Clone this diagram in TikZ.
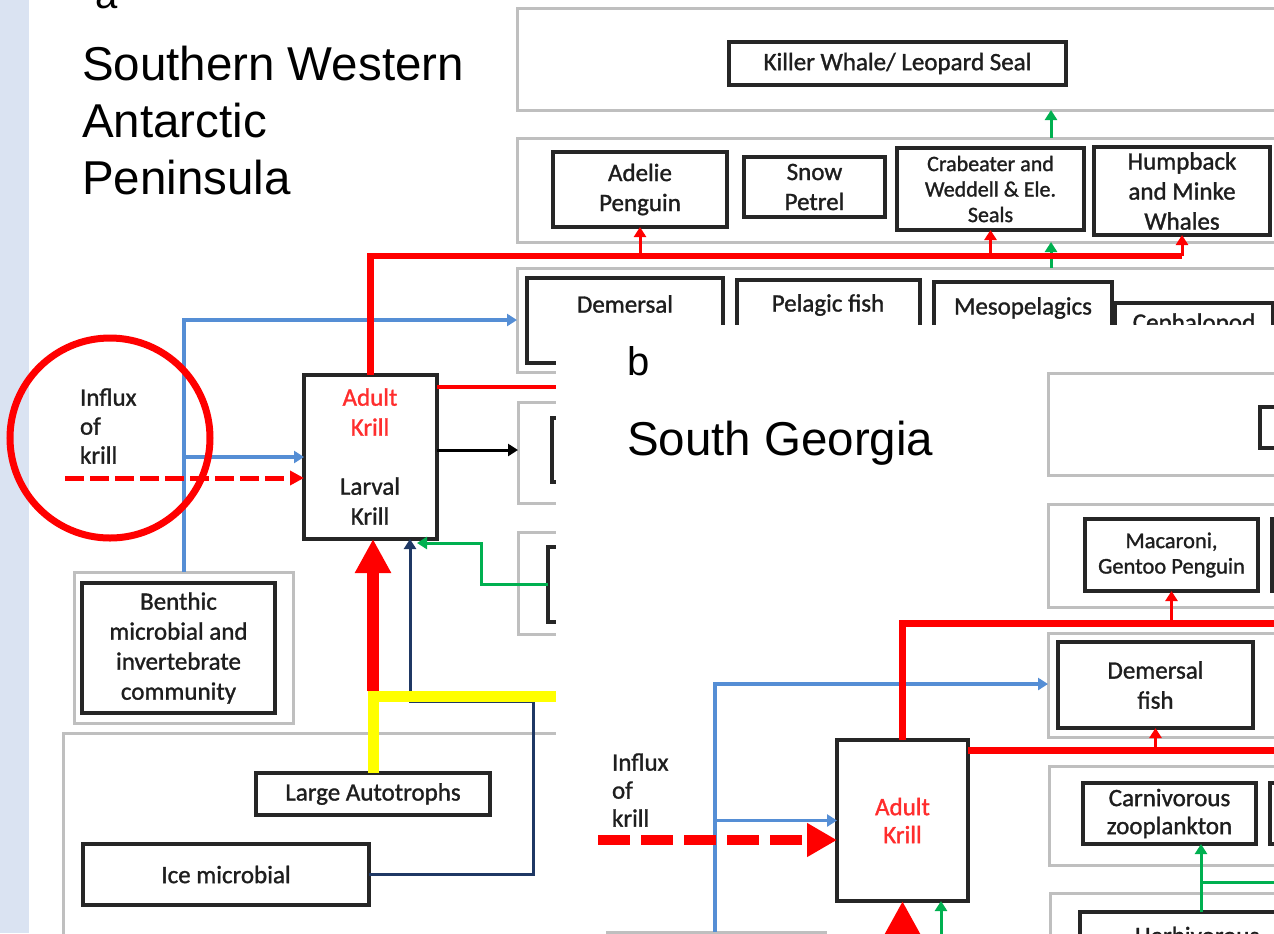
\documentclass[tikz,border=0pt]{standalone}
\usepackage{fontspec}
\setmainfont{Carlito}[FakeBold=1.2]
\newfontfamily\arialfont{Liberation Sans}
\usetikzlibrary{arrows.meta,fit}

\definecolor{stripc}{RGB}{218,227,242}
\definecolor{laygray}{RGB}{191,191,191}
\definecolor{boxc}{RGB}{38,38,38}
\definecolor{txtc}{RGB}{30,30,30}
\definecolor{bluec}{RGB}{85,142,213}
\definecolor{greenc}{RGB}{0,176,80}
\definecolor{navyc}{RGB}{31,56,100}
\definecolor{redc}{RGB}{255,0,0}
\definecolor{yelc}{RGB}{255,255,0}
\definecolor{redtxt}{RGB}{255,45,45}

\begin{document}
\begin{tikzpicture}[x=0.5pt,y=-0.5pt,
  layer/.style={draw=laygray, line width=1.5pt, fill=white, inner sep=0, outer sep=0},
  ibox/.style={draw=boxc, line width=2pt, fill=white, inner sep=0, outer sep=0},
  lbl/.style={inner sep=0, outer sep=0, align=center, text=txtc, font=\fontsize{12.5}{15}\selectfont},
  smallfont/.style={font=\fontsize{11}{12.75}\selectfont},
  ttl/.style={inner sep=0, outer sep=0, anchor=base west, text=black,
    font=\arialfont\fontsize{23.75}{28.75}\selectfont},
  smallhead/.style={-{Triangle[length=5pt,width=6pt]}},
  bighead/.style={-{Triangle[length=17pt,width=17pt]}},
  bluln/.style={draw=bluec, line width=1.75pt},
  grnln/.style={draw=greenc, line width=1.5pt},
  navyln/.style={draw=navyc, line width=1.5pt},
  blkln/.style={draw=black, line width=1.5pt},
  redln/.style={draw=redc, line width=3.25pt},
  redlnB/.style={draw=redc, line width=3.5pt},
  redmid/.style={draw=redc, line width=2pt},
  redbr/.style={draw=redc, line width=1.5pt},
  redbig/.style={draw=redc, line width=6pt},
  yelln/.style={draw=yelc, line width=5.5pt},
  dashAst/.style={draw=redc, line width=2.5pt, dash pattern=on 9.5pt off 3pt,
    -{Triangle[length=7pt,width=7pt]}},
  dashBst/.style={draw=redc, line width=5pt, dash pattern=on 16pt off 5.5pt,
    -{Triangle[length=15pt,width=16pt]}}
]
\useasboundingbox (0,0) rectangle (1274,933);
\clip (0,0) rectangle (1274,933);
\fill[white] (0,0) rectangle (1274,933);
\fill[stripc] (0,0) rectangle (29,933);

% ---------------- panel a ----------------
\node[ttl, font=\arialfont\fontsize{20}{24}\selectfont] (tagA) at (95,8) {a};
\node[ttl] (titA1) at (82,80) {Southern Western};
\node[ttl] (titA2) at (82,137) {Antarctic};
\node[ttl] (titA3) at (82,194) {Peninsula};

% trophic layers
\node[layer, fit={(517,8) (1300,110)}] (layA1) {};
\node[layer, fit={(517,138) (1300,242)}] (layA2) {};
\node[layer, fit={(517,268) (1300,372)}] (layA3) {};
\node[layer, fit={(518,402) (1300,503)}] (layA4) {};
\node[layer, fit={(518,532) (1300,634)}] (layA5) {};
\node[layer, fit={(63,733) (1300,1000)}] (layA6) {};
\node[layer, fit={(74,572) (293,723)}] (benthOut) {};

% groups
\node[ibox, fit={(729,42) (1066,85)}] (killer) {};
\node[lbl] (killerT) at (killer.center) {Killer Whale/ Leopard Seal};
\node[ibox, fit={(553,152) (727,227)}] (adelie) {};
\node[lbl] (adelieT) at (adelie.center) {Adelie\\Penguin};
\node[ibox, fit={(744,157) (885,217)}] (snow) {};
\node[lbl] (snowT) at (snow.center) {Snow\\Petrel};
\node[ibox, fit={(897,148) (1084,230)}] (crab) {};
\node[lbl, smallfont] (crabT) at (crab.center) {Crabeater and\\Weddell \& Ele.\\Seals};
\node[ibox, fit={(1094,147) (1270,235)}] (humpA) {};
\node[lbl] (humpT) at (humpA.center) {Humpback\\and Minke\\Whales};

\node[ibox, fit={(527,278) (723,363)}] (demA) {};
\node[lbl] (demAT) at (625,304) {Demersal};
\node[ibox, fit={(737,280) (920,363)}] (pelA) {};
\node[lbl] (pelAT) at (828,305) {Pelagic fish};
\node[ibox, fit={(934,282) (1112,363)}] (mesoA) {};
\node[lbl] (mesoAT) at (1023,308) {Mesopelagics};
\node[ibox, fit={(1115,303) (1273,363)}] (cephA) {};
\node[lbl] (cephAT) at (1194,324) {Cephalopod};
\node[ibox, fit={(552,418) (1300,482)}] (inA4) {};
\node[ibox, fit={(548,547) (1300,622)}] (inA5) {};

\node[ibox, fit={(304,375) (437,539)}] (krillA) {};
\node[lbl, text=redtxt] (adultA) at (370,412) {Adult\\Krill};
\node[lbl] (larvalA) at (370,501) {Larval\\Krill};
\node[ibox, fit={(82,583) (275,713)}] (benthIn) {};
\node[lbl] (benthT) at (benthIn.center) {Benthic\\microbial and\\invertebrate\\community};
\node[ibox, fit={(256,773) (490,815)}] (large) {};
\node[lbl] (largeT) at (large.center) {Large Autotrophs};
\node[ibox, fit={(83,844) (369,905)}] (ice) {};
\node[lbl] (iceT) at (ice.center) {Ice microbial};
\node[lbl, align=left, anchor=west, font=\fontsize{12.5}{14.5}\selectfont] (influxA) at (80,426) {Influx\\of\\krill};

% flows
\coordinate (gxA) at (1051,0);
\draw[grnln, smallhead] (gxA |- layA2.north) -- (gxA |- layA1.south);
\draw[grnln, smallhead] (gxA |- layA3.north) -- (gxA |- layA2.south);

\coordinate (bluA) at (184,320);
\draw[bluln, smallhead] (bluA |- benthOut.north) -- (bluA) -- (bluA -| layA3.west);
\draw[bluln, smallhead] (bluA |- krillA.west) -- (krillA.west);

\coordinate (redA) at (370.5,256);
\draw[redln] (krillA.north) -- (redA) -- (redA -| humpA.south);
\foreach \n in {adelie,crab,humpA}
  \draw[redbr, smallhead] (redA -| \n.south) -- (\n.south);

\coordinate (redRA) at (620,387);
\draw[redmid] (redRA -| krillA.east) -- (redRA);

\draw[blkln, smallhead] (krillA.east |- inA4.west) -- (layA4.west |- inA4.west);

\coordinate (gA1) at (481,543);
\coordinate (gA2) at (417,543);
\draw[grnln, smallhead] (inA5.west) -| (gA1) -- (gA2);

\coordinate (nvA1) at (533,701);
\coordinate (nvA2) at (410,701);
\draw[navyln, smallhead] (ice.east) -| (nvA1) -- (nvA2) -- (nvA2 |- krillA.south);

\coordinate (yelA) at (373,696);
\coordinate (yelEnd) at (620,696);
\draw[redbig, bighead] ([yshift=2.5pt]yelA) -- (yelA |- krillA.south);
\draw[yelln] (large.north) -- (yelA) -- (yelEnd);

\coordinate (dashA) at (65,478);
\draw[dashAst] (dashA) -- (dashA -| krillA.west);

\draw[redc, line width=3.5pt] (110,438) circle [radius=100];

% ---------------- panel b ----------------
\fill[white] (556,325) rectangle (1300,1000);
\node[ttl, font=\arialfont\fontsize{20}{24}\selectfont] (tagB) at (627,375) {b};
\node[ttl] (titB) at (627,455) {South Georgia};

\node[layer, fit={(1048,373) (1300,475)}] (layB1) {};
\node[layer, fit={(1048,504) (1300,607)}] (layB2) {};
\node[layer, fit={(1048,633) (1300,737)}] (layB3) {};
\node[layer, fit={(1049,766) (1300,865)}] (layB4) {};
\node[layer, fit={(1050,893) (1300,1000)}] (layB5) {};
\node[layer, fit={(607,932) (825,1000)}] (benthB) {};

\node[ibox, fit={(1260,407) (1320,448)}] (topB) {};
\node[ibox, fit={(1085,519) (1258,591)}] (mac) {};
\node[lbl, font=\fontsize{11.25}{12.75}\selectfont] (macT) at (mac.center) {Macaroni,\\Gentoo Penguin};
\node[ibox, fit={(1272,519) (1320,591)}] (birdB) {};
\node[ibox, fit={(1058,642) (1253,728)}] (demB) {};
\node[lbl] (demBT) at (demB.center) {Demersal\\fish};
\node[ibox, fit={(1083,783) (1256,844)}] (carn) {};
\node[lbl, font=\fontsize{12.5}{14}\selectfont] (carnT) at (carn.center) {Carnivorous\\zooplankton};
\node[ibox, fit={(1270,783) (1320,844)}] (zooB) {};
\node[ibox, fit={(1080,912) (1320,1000)}] (herb) {};
\node[lbl, anchor=base west] (herbT) at (1135,944) {Herbivorous};
\node[ibox, fit={(837,740) (968,901)}] (krillB) {};
\node[lbl, text=redtxt, font=\fontsize{12.5}{14}\selectfont] (krillBT) at (krillB.center) {Adult\\Krill};
\node[lbl, align=left, anchor=west, font=\fontsize{12.5}{14}\selectfont] (influxB) at (612,790) {Influx\\of\\krill};

\coordinate (bluB) at (715,684);
\draw[bluln, smallhead] (bluB |- benthB.north) -- (bluB) -- (bluB -| layB3.west);
\draw[bluln, smallhead] (bluB |- krillB.west) -- (krillB.west);

\coordinate (dashB) at (598,840);
\draw[dashBst] (dashB) -- (dashB -| krillB.west);

\coordinate (redB) at (902.5,623);
\coordinate (redBend) at (1300,623);
\draw[redlnB] (krillB.north) -- (redB) -- (redBend);
\draw[redbr, smallhead] (redB -| mac.south) -- (mac.south);

\coordinate (redRB) at (1300,750);
\draw[redlnB] (redRB -| krillB.east) -- (redRB);
\draw[redbr, smallhead] (redRB -| demB.south) -- (demB.south);

\coordinate (gxB) at (1201,882);
\coordinate (gxBend) at (1300,882);
\draw[grnln, smallhead] (gxB |- herb.north) -- (gxB |- carn.south);
\draw[grnln] (gxB) -- (gxBend);

\coordinate (rbB) at (902.5,990);
\draw[redbig, bighead] (rbB) -- (krillB.south);
\coordinate (gbB) at (941,990);
\draw[grnln, smallhead] (gbB) -- (gbB |- krillB.south);
\end{tikzpicture}
\end{document}
